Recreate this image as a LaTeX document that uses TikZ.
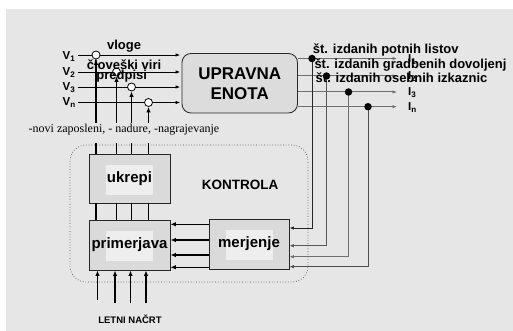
\documentclass[tikz,border=0pt]{standalone}
\usepackage{fontspec}
\setmainfont{Liberation Sans}
\newfontfamily\serifface{Liberation Serif}
\usetikzlibrary{arrows.meta}
\definecolor{bg}{HTML}{E6E6E6}
\definecolor{boxfill}{HTML}{DADADA}
\definecolor{uefill}{HTML}{DCDCDC}
\definecolor{innerfill}{HTML}{EEEEEE}
\definecolor{wire}{HTML}{707070}
\begin{document}
\begin{tikzpicture}[x=1pt,y=-1pt,
  blk/.style={draw=black!85, fill=boxfill, line width=0.8pt, inner sep=0pt},
  innerbox/.style={fill=innerfill, inner sep=0pt, minimum width=47pt, minimum height=30pt},
  blktext/.style={font=\fontsize{15}{15}\selectfont\bfseries, inner sep=0pt},
  lbl/.style={font=\fontsize{13}{13}\selectfont\bfseries, inner sep=0pt},
  vlbl/.style={font=\fontsize{11.5}{11.5}\selectfont\bfseries, inner sep=0pt, anchor=base west},
  smalltip/.style={-{Latex[length=4.5pt,width=3.5pt]}},
  bigtip/.style={-{Latex[length=5.5pt,width=4.5pt]}},
  thinln/.style={line width=0.8pt},
  thickln/.style={line width=1.6pt},
  wireln/.style={draw=wire, line width=1pt},
  knob/.style={circle, draw=black, fill=white, line width=0.8pt, minimum size=8pt, inner sep=0pt},
  blob/.style={circle, fill=black, minimum size=7.5pt, inner sep=0pt},
]
\useasboundingbox (0,0) rectangle (513,331);
\fill[bg] (6,9) rectangle (513,331);

% control region
\draw[dotted, black!70, line width=0.7pt, rounded corners=16pt] (70,145) rectangle (308,282);
\node[font=\fontsize{13.5}{13.5}\selectfont\bfseries, inner sep=0pt] (kon) at (240,185) {KONTROLA};

% main unit
\node[blk, fill=uefill, rounded corners=9pt, minimum width=115.5pt, minimum height=59.5pt,
      align=center, font=\fontsize{17}{20}\selectfont\bfseries] (ue) at (239.75,83.25) {UPRAVNA\\ENOTA};

% blocks
\node[blk, minimum width=81pt, minimum height=49pt] (uk) at (129.5,178.5) {};
\node[innerbox] (ukin) at (129.8,179.7) {};
\node[blktext] (uktx) at (uk.center) {ukrepi};

\node[blk, minimum width=81pt, minimum height=50pt] (pr) at (129.5,245) {};
\node[innerbox] (prin) at (129.5,245.8) {};
\node[blktext] (prtx) at (pr.center) {primerjava};

\node[blk, minimum width=80pt, minimum height=50pt] (me) at (249,244) {};
\node[innerbox] (mein) at (249,245.3) {};
\node[blktext] (metx) at (me.center) {merjenje};

% inputs
\coordinate (v1) at (78,55);
\coordinate (v2) at (78,72);
\coordinate (v3) at (78,87);
\coordinate (vn) at (78,102.5);
\foreach \v in {v1,v2,v3,vn}{
  \draw[thinln, smalltip, shorten >=1.5pt] (\v) -- (\v -| ue.west);
}
\node[vlbl] (lv1) at (62.5,60) {V\textsubscript{1}};
\node[vlbl] (lv2) at (62.5,75.5) {V\textsubscript{2}};
\node[vlbl] (lv3) at (62.5,90.5) {V\textsubscript{3}};
\node[vlbl] (lvn) at (62.5,105.5) {V\textsubscript{n}};

% feedback from ukrepi to inputs
\node[knob] (k1) at (96,55) {};
\node[knob] (k2) at (116.5,72) {};
\node[knob] (k3) at (131.5,87) {};
\node[knob] (kn) at (148.5,102.5) {};
\foreach \k in {k1,k2,k3,kn}{
  \draw[thickln, bigtip] (\k |- uk.north) -- (\k.south);
  \draw[thickln] (\k |- uk.south) -- (\k |- pr.north);
}

% plan arrows into primerjava
\coordinate (b1) at (97.5,300);
\coordinate (b2) at (115,303);
\coordinate (b3) at (130.5,303);
\coordinate (b4) at (146,303);
\foreach \b in {b1,b2,b3,b4}{
  \draw[thickln, bigtip] (\b) -- (\b |- pr.south);
}
\node[font=\fontsize{9.5}{9.5}\selectfont\bfseries, inner sep=0pt] (plan) at (130,319) {LETNI NAČRT};

% merjenje -> primerjava
\coordinate (m1) at (209,224.3);
\coordinate (m2) at (209,240);
\coordinate (m3) at (209,255);
\coordinate (m4) at (209,267.3);
\foreach \m in {m1,m2,m3,m4}{
  \draw[thickln, bigtip] (\m) -- (\m -| pr.east);
}

% outputs
\coordinate (o1) at (397,58.5);
\coordinate (o2) at (397,76);
\coordinate (o3) at (397,92);
\coordinate (on) at (397,106.7);
\foreach \o in {o1,o2,o3,on}{
  \draw[wireln, smalltip] (\o -| ue.east) -- (\o);
}
\coordinate (c1) at (312,228);
\coordinate (c2) at (326.5,245.7);
\coordinate (c3) at (348.5,256.7);
\coordinate (cn) at (368,266.7);
\draw[wireln, draw=black!85, smalltip] (c1 |- o1) -- (c1) -- (c1 -| me.east);
\draw[wireln, draw=black!65, smalltip] (c2 |- o2) -- (c2) -- (c2 -| me.east);
\draw[wireln, smalltip] (c3 |- o3) -- (c3) -- (c3 -| me.east);
\draw[wireln, draw=black!70, smalltip] (cn |- on) -- (cn) -- (cn -| me.east);
\node[blob] (d1) at (c1 |- o1) {};
\node[blob] (d2) at (c2 |- o2) {};
\node[blob] (d3) at (c3 |- o3) {};
\node[blob] (dn) at (cn |- on) {};

\node[vlbl] (li1) at (408,62.5) {I\textsubscript{1}};
\node[vlbl] (li2) at (408,80) {I\textsubscript{2}};
\node[vlbl] (li3) at (408,95.5) {I\textsubscript{3}};
\node[vlbl] (lin) at (408,111) {I\textsubscript{n}};

% mask and note
\fill[bg] (88,123) rectangle (158,143);
\node[font=\serifface\fontsize{12}{12}\selectfont, inner sep=0pt] (note) at (124,130) {-novi zaposleni, - nadure, -nagrajevanje};

% input labels
\node[lbl, anchor=base] (tv) at (124,49.3) {vloge};
\node[lbl, anchor=base] (tc) at (124,70) {človeški viri};
\node[lbl, anchor=base] (tp) at (121.7,80) {predpisi};

% output labels
\node[lbl, anchor=base west] (t1) at (312.7,53.3) {št. izdanih potnih listov};
\node[lbl, anchor=base west] (t2) at (314.3,68.5) {št. izdanih gradbenih dovoljenj};
\node[lbl, anchor=base west] (t3) at (315.5,82.5) {št. izdanih osebnih izkaznic};
\end{tikzpicture}
\end{document}
